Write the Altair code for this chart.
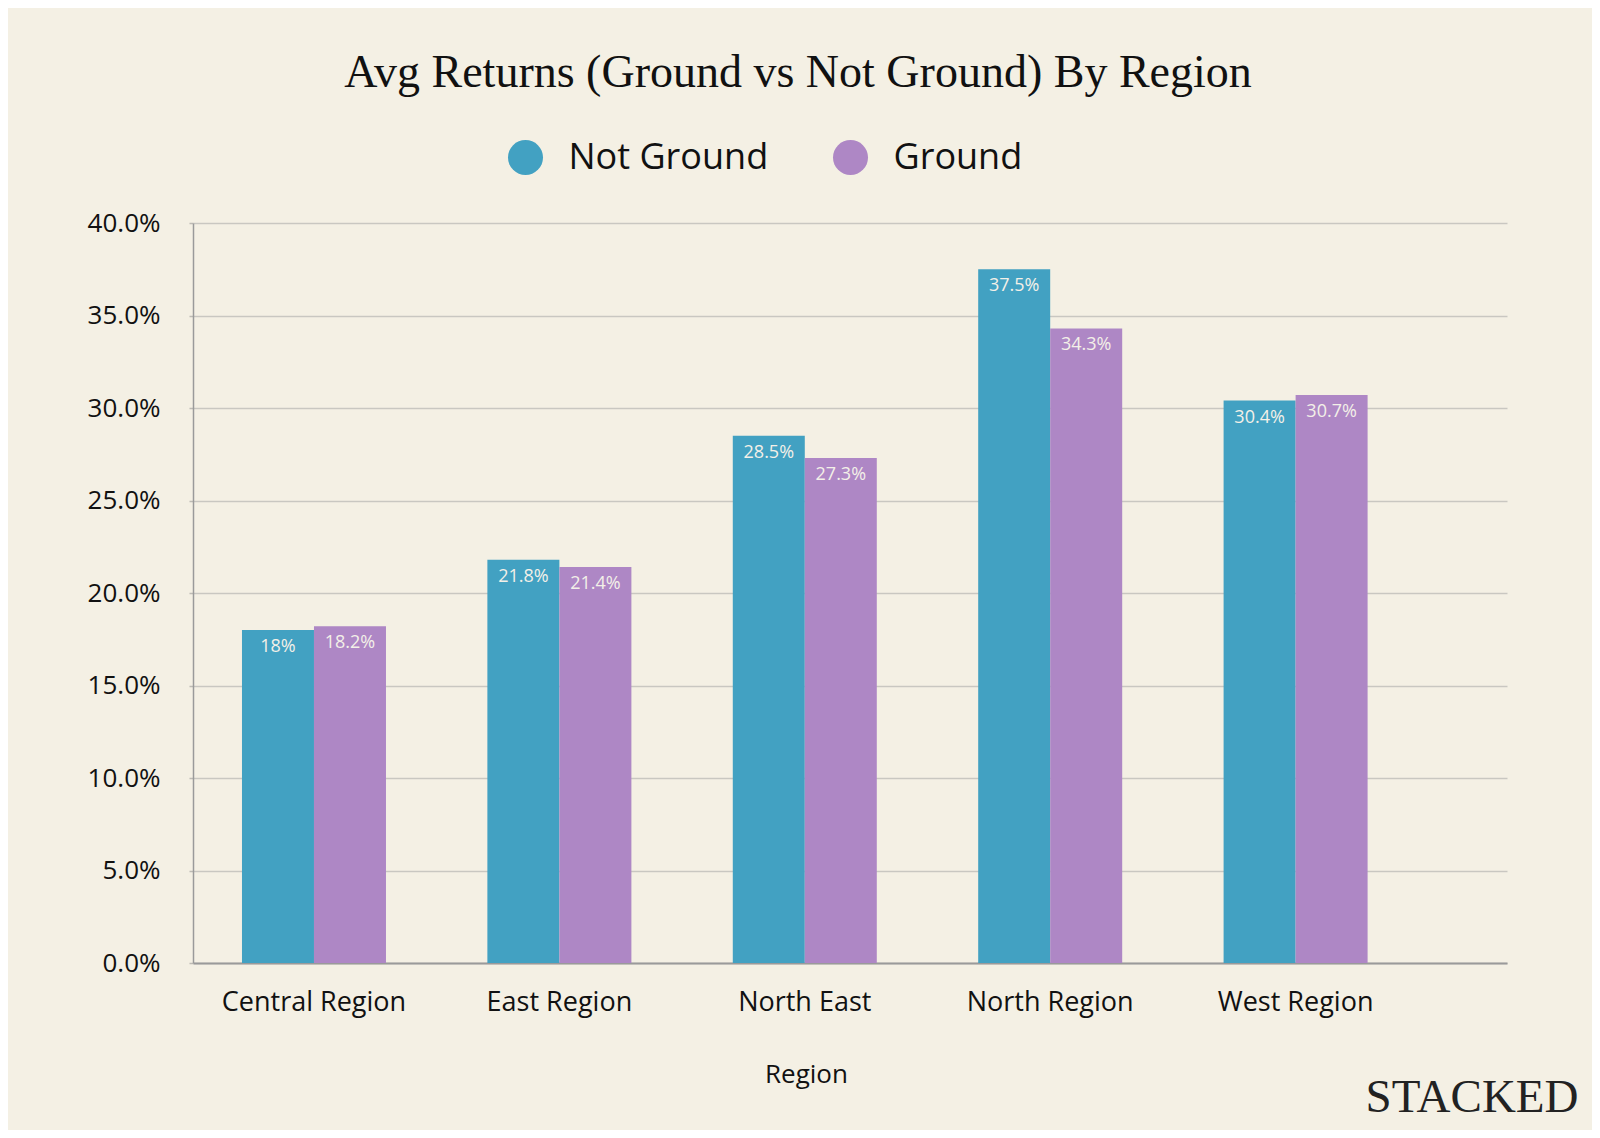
import altair as alt
import pandas as pd

regions = ["Central Region", "East Region", "North East", "North Region", "West Region"]
series = ["Not Ground", "Ground"]
not_ground = [18.0, 21.8, 28.5, 37.5, 30.4]
ground = [18.2, 21.4, 27.3, 34.3, 30.7]
y_ticks = [0, 5, 10, 15, 20, 25, 30, 35, 40]
colors = ["#42a1c2", "#ae87c5"]
title_text = "Avg Returns (Ground vs Not Ground) By Region"
brand_text = "STACKED"

rows = []
for r, a, b in zip(regions, not_ground, ground):
    rows.append({"region": r, "series": "Not Ground", "value": a})
    rows.append({"region": r, "series": "Ground", "value": b})
df = pd.DataFrame(rows)

W, H = 1314, 740
BG = "#f4f0e4"
SANS = "Open Sans"

x_enc = alt.X(
    "region:N",
    sort=regions,
    scale=alt.Scale(paddingInner=0.4132, paddingOuter=0.3838, align=0.26),
    axis=alt.Axis(
        title="Region",
        labelAngle=0,
        labelLimit=0,
        ticks=False,
        grid=False,
        domainColor="#9a9a9a",
        domainWidth=2,
        labelFont=SANS,
        labelFontSize=27,
        labelColor="#111111",
        labelPadding=26,
        titleFont=SANS,
        titleFontSize=26,
        titleFontWeight="normal",
        titleColor="#111111",
        titleX=613,
        titleY=111,
        titleBaseline="middle",
    ),
)
y_enc = alt.Y(
    "value:Q",
    scale=alt.Scale(domain=[0, 40], nice=False),
    axis=alt.Axis(
        title=None,
        values=y_ticks,
        labelExpr="format(datum.value, '.1f') + '%'",
        labelFont=SANS,
        labelFontSize=26,
        labelColor="#111111",
        labelPadding=29,
        tickSize=4,
        tickColor="#bdbbb5",
        tickWidth=1.5,
        domainColor="#9a9a9a",
        domainWidth=1.5,
        gridColor="#c9c7c1",
        gridWidth=1.5,
    ),
)
xoff = alt.XOffset("series:N", sort=series)

bars = alt.Chart(df).mark_bar().encode(
    x=x_enc,
    xOffset=xoff,
    y=y_enc,
    color=alt.Color(
        "series:N",
        sort=series,
        scale=alt.Scale(domain=series, range=colors),
        legend=alt.Legend(
            title=None,
            orient="none",
            legendX=314.5,
            legendY=-83.5,
            direction="horizontal",
            symbolType="circle",
            symbolSize=1225,
            symbolStrokeWidth=0,
            symbolOpacity=1,
            labelFont=SANS,
            labelFontSize=36,
            labelColor="#111111",
            labelOffset=25,
            labelLimit=0,
            columnPadding=64,
            padding=0,
        ),
    ),
)

labels = alt.Chart(df).transform_calculate(
    lbl="format(datum.value, '.1~f') + '%'"
).mark_text(
    dy=17, baseline="middle", align="center", font=SANS, fontSize=18, color="#f3f0e8"
).encode(
    x=alt.X("region:N", sort=regions),
    xOffset=xoff,
    y="value:Q",
    text="lbl:N",
)

title = alt.Chart(pd.DataFrame({"t": [title_text]})).mark_text(
    font="Liberation Serif", fontSize=46, color="#111111", align="center", baseline="middle"
).encode(text="t:N", x=alt.value(605), y=alt.value(-150))

brand = alt.Chart(pd.DataFrame({"t": [brand_text]})).mark_text(
    font="Liberation Serif", fontSize=47, color="#222222", align="center", baseline="middle"
).encode(text="t:N", x=alt.value(1279), y=alt.value(875))

chart = alt.layer(bars, labels, title, brand).properties(
    width=W,
    height=H,
    autosize=alt.AutoSizeParams(type="none"),
    padding={"left": 185, "top": 215, "right": 85, "bottom": 167},
    background=BG,
).configure_view(stroke=None)

chart.save("out.html", embed_options={"renderer": "svg", "actions": False})
